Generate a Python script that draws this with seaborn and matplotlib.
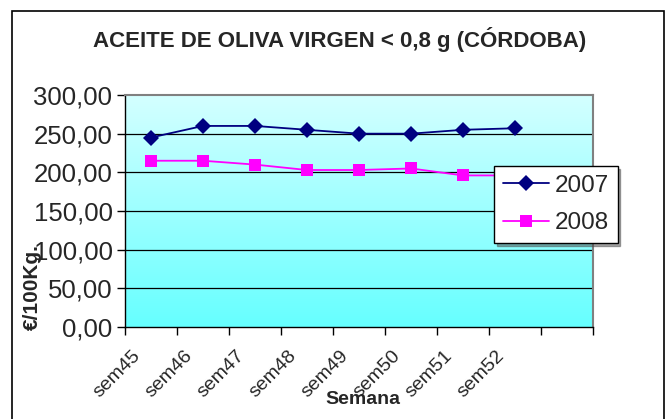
import numpy as np
import pandas as pd
import matplotlib
matplotlib.use("Agg")
import matplotlib.pyplot as plt
from matplotlib.patches import Rectangle
from matplotlib.colors import LinearSegmentedColormap
import seaborn as sns

weeks = ["sem45", "sem46", "sem47", "sem48", "sem49", "sem50", "sem51", "sem52"]
extra_slot = [""]
vals_2007 = [245, 260, 260, 255, 250, 250, 255, 257]
vals_2008 = [215, 215, 210, 203, 203, 205, 196, 196]
series_names = ["2007", "2008"]
yticks = [0, 50, 100, 150, 200, 250, 300]
title = "ACEITE DE OLIVA VIRGEN < 0,8 g (CÓRDOBA)"

sns.set_theme(style="white")
plt.rcParams["font.family"] = ["Liberation Sans", "DejaVu Sans"]

categories = weeks + extra_slot
df = pd.DataFrame({
    "pos": list(range(len(weeks))) * 2,
    "valor": vals_2007 + vals_2008,
    "serie": [series_names[0]] * len(weeks) + [series_names[1]] * len(weeks),
})

fig = plt.figure(figsize=(6.69, 4.19), dpi=100)
fig.patch.set_facecolor("white")
ax = fig.add_axes([125 / 669, 1 - 327 / 419, (593 - 125) / 669, (327 - 95) / 419])

# gradient background
grad = np.linspace(0, 1, 256).reshape(-1, 1)
cmap = LinearSegmentedColormap.from_list("bg", ["#66ffff", "#d4ffff"])
ax.imshow(grad, aspect="auto", cmap=cmap, origin="lower",
          extent=[-0.5, len(categories) - 0.5, 0, 300], zorder=0)

for y in yticks[1:-1]:
    ax.axhline(y, color="black", lw=0.9, zorder=1)

sns.lineplot(data=df, x="pos", y="valor", hue="serie", style="serie",
             palette={"2007": "#000080", "2008": "#ff00ff"},
             markers={"2007": "D", "2008": "s"}, dashes=False,
             markersize=8, markeredgewidth=0, linewidth=1.3, ax=ax, zorder=3,
             legend=True)

ax.set_xlim(-0.5, len(categories) - 0.5)
ax.set_ylim(0, 300)

# ticks: major at category boundaries, labels via minor ticks
ax.set_xticks(np.arange(-0.5, len(categories), 1.0))
ax.set_xticklabels([])
ax.set_xticks(np.arange(len(categories)) - 0.25, minor=True)
ax.set_xticklabels(categories, minor=True, rotation=45, fontsize=14,
                   ha="right", va="center", rotation_mode="anchor")
ax.tick_params(axis="x", which="major", direction="out", length=6, width=1,
               color="black", bottom=True)
ax.tick_params(axis="x", which="minor", length=0, pad=19)

ax.set_yticks(yticks)
ax.set_yticklabels([f"{v:.2f}".replace(".", ",") for v in yticks], fontsize=18.5)
ax.tick_params(axis="y", direction="out", length=6, width=1, color="black",
               left=True, pad=3)

ax.set_xlabel("")
ax.set_ylabel("")

for side in ["top", "right"]:
    ax.spines[side].set_color("#808080")
    ax.spines[side].set_linewidth(1.5)
for side in ["left", "bottom"]:
    ax.spines[side].set_color("black")
    ax.spines[side].set_linewidth(1)
    ax.spines[side].set_visible(True)

# legend
handles, labels = ax.get_legend_handles_labels()
leg = ax.legend(handles, labels, loc="upper left",
                bbox_to_anchor=(494 / 669, 1 - 166 / 419),
                bbox_transform=fig.transFigure, fontsize=17.5, frameon=True,
                fancybox=False, shadow=True, borderpad=0.35, handlelength=1.9,
                handletextpad=0.25, labelspacing=0.65, borderaxespad=0)
leg.get_frame().set_edgecolor("black")
leg.get_frame().set_linewidth(1)
leg.set_zorder(10)

fig.text(340 / 669, 1 - 40 / 419, title, ha="center", va="center",
         fontsize=16, fontweight="bold")
fig.text(32 / 669, 1 - 287 / 419, "€/100Kg.", rotation=90, ha="center",
         va="center", fontsize=15, fontweight="bold")
fig.text(363 / 669, 1 - 399 / 419, "Semana", ha="center", va="center",
         fontsize=14, fontweight="bold")

# outer frame
fig.patches.append(Rectangle((12 / 669, -0.05), (664 - 12) / 669, 1.05 - 11 / 419,
                             transform=fig.transFigure, fill=False,
                             edgecolor="black", lw=1.2))

fig.savefig("out.png", dpi=100)
